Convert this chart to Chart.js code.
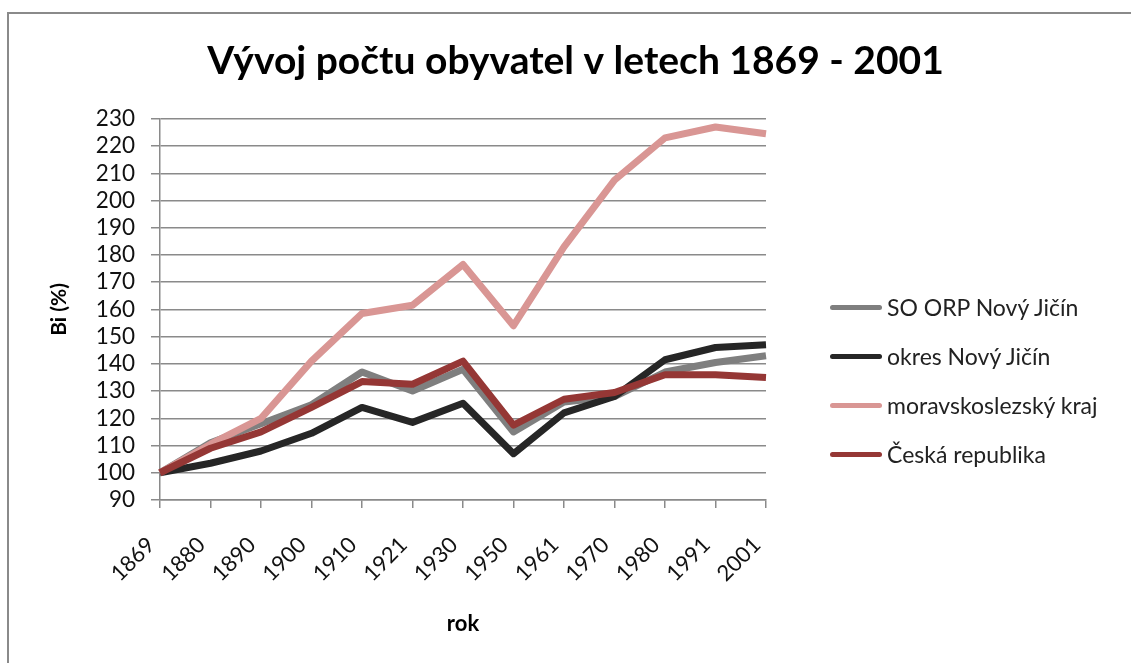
<!DOCTYPE html>
<html>
<head>
<meta charset="utf-8">
<script src="https://cdn.jsdelivr.net/npm/chart.js@4/dist/chart.umd.min.js"></script>
<style>
  body { margin: 0; background: #fff; }
  #wrap { position: relative; width: 1131px; height: 663px; overflow: hidden; }
  #frame { position: absolute; left: 7px; top: 12px; width: 1130px; height: 660px;
           border-left: 2px solid #8a8a8a; border-top: 2px solid #8a8a8a; }
  canvas { position: absolute; left: 0; top: 0; }
  #legend { position: absolute; left: 830px; top: 292px; font-family: Lato, sans-serif;
            font-size: 23px; color: #222; }
  #legend div { display: flex; align-items: center; height: 30px; margin-bottom: 19px; }
  #legend span.sw { display: inline-block; width: 52px; height: 5px; border-radius: 3px; margin-right: 5px; }
</style>
</head>
<body>
<div id="wrap">
  <div id="frame"></div>
  <canvas id="myChart" width="1131" height="663"></canvas>
  <div id="legend"></div>
</div>
<script>
// years of the censuses
const years = ["1869", "1880", "1890", "1900", "1910", "1921", "1930", "1950", "1961", "1970", "1980", "1991", "2001"];

// index of population, 1869 = 100
const soOrp = [100, 111, 118, 125, 137, 130, 138, 115, 126, 128, 137, 140.5, 143];
const okres = [100, 103.5, 108, 114.5, 124, 118.5, 125.5, 107, 122, 128, 141.5, 146, 147];
const kraj = [100, 110.5, 120, 141, 158.5, 161.5, 176.5, 154, 183, 207.5, 223, 227, 224.5];
const cr = [100, 109, 115, 124, 133.5, 132.5, 141, 117.5, 127, 129.5, 136, 136, 135];

const seriesNames = ["SO ORP Nový Jičín", "okres Nový Jičín", "moravskoslezský kraj", "Česká republika"];
const seriesColors = ["#7f7f7f", "#262626", "#d99694", "#953735"];
const seriesData = [soOrp, okres, kraj, cr];

const font = "Lato";

const ctx = document.getElementById("myChart").getContext("2d");
new Chart(ctx, {
  type: "line",
  data: {
    labels: years,
    datasets: seriesData.map((d, i) => ({
      label: seriesNames[i],
      data: d,
      borderColor: seriesColors[i],
      backgroundColor: seriesColors[i],
      borderWidth: 7,
      borderJoinStyle: "round",
      pointRadius: 0,
      tension: 0,
      order: 4 - i   // later series drawn on top, like Excel
    }))
  },
  options: {
    responsive: false,
    animation: false,
    layout: { padding: { left: 20, right: 0, top: 0, bottom: 0 } },
    plugins: {
      legend: { display: false },
      tooltip: { enabled: false },
      title: {
        display: true,
        text: "Vývoj počtu obyvatel v letech 1869 - 2001",
        color: "#000",
        font: { family: font, size: 39, weight: "bold", lineHeight: 1.2 },
        padding: { top: 38, bottom: 34 }
      }
    },
    scales: {
      x: {
        offset: false,
        afterFit: s => { s.height = 163; },
        grid: { drawOnChartArea: false, color: "#8a8a8a", lineWidth: 1.5, tickLength: 8 },
        border: { color: "#8a8a8a", width: 1.5 },
        ticks: {
          minRotation: 45, maxRotation: 45, autoSkip: false, padding: 24, labelOffset: -9,
          color: "#111", font: { family: font, size: 22 }
        },
        title: {
          display: true, text: "rok", color: "#000",
          font: { family: font, size: 22, weight: "bold", lineHeight: 1.2 },
          padding: { top: 0, bottom: 26 }
        }
      },
      y: {
        min: 90, max: 230,
        afterFit: s => { s.width = 140; },
        grid: { color: "#8a8a8a", lineWidth: 1.5, tickLength: 9 },
        border: { color: "#8a8a8a", width: 1.5 },
        ticks: { stepSize: 10, autoSkip: false, padding: 16, color: "#111", font: { family: font, size: 22.5 } },
        title: {
          display: true, text: "Bi (%)", color: "#000",
          font: { family: font, size: 21, weight: "bold", lineHeight: 1.2 },
          padding: { top: 27, bottom: 0 }
        }
      },
      // empty axis on the right keeps room for the legend
      side: {
        position: "right",
        afterFit: s => { s.width = 365; },
        grid: { display: false },
        border: { display: false },
        ticks: { display: false }
      }
    }
  }
});

// legend built from the same series names / colours
const lg = document.getElementById("legend");
seriesNames.forEach((n, i) => {
  const row = document.createElement("div");
  row.innerHTML = '<span class="sw" style="background:' + seriesColors[i] + '"></span><span>' + n + '</span>';
  lg.appendChild(row);
});
</script>
</body>
</html>
